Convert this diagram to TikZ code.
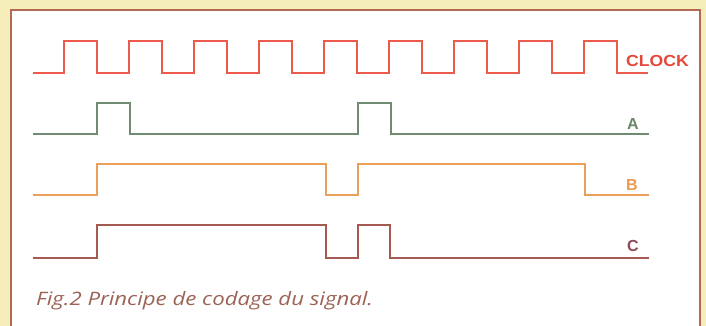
\documentclass[tikz,border=0pt]{standalone}
\usepackage{fontspec}
\setmainfont{Liberation Sans}
\newfontfamily\capfont{Open Sans}
\begin{document}
\begin{tikzpicture}[x=1pt,y=-1pt,
  sig/.style={line width=1.7pt, line join=miter},
  lbl/.style={font=\fontsize{16}{18}\selectfont\bfseries, inner sep=0pt, anchor=base},
]
\definecolor{bgyellow}{HTML}{F6EEBA}
\definecolor{framec}{HTML}{B26A52}
\definecolor{clockc}{HTML}{EC5A4C}
\definecolor{ac}{HTML}{6F8C72}
\definecolor{bc}{HTML}{EBA05A}
\definecolor{cc}{HTML}{A45A50}
\definecolor{clab}{HTML}{E5483A}
\definecolor{alab}{HTML}{6A8868}
\definecolor{blab}{HTML}{EE9A50}
\definecolor{clabc}{HTML}{8E4A58}
\definecolor{capc}{HTML}{9C6254}
\useasboundingbox (0,0) rectangle (706,326);
\fill[bgyellow] (0,0) rectangle (706,326);
\begin{scope}
\clip (0,0) rectangle (706,326);
\filldraw[fill=white, draw=framec, line width=2pt] (11,10) rectangle (700,340);
\end{scope}
% CLOCK
\draw[sig, clockc] (33,73)
  -- (64,73) -- (64,41) -- (97,41) -- (97,73)
  -- (129,73) -- (129,41) -- (162,41) -- (162,73)
  -- (194,73) -- (194,41) -- (227,41) -- (227,73)
  -- (259,73) -- (259,41) -- (292,41) -- (292,73)
  -- (324,73) -- (324,41) -- (357,41) -- (357,73)
  -- (389,73) -- (389,41) -- (422,41) -- (422,73)
  -- (454,73) -- (454,41) -- (487,41) -- (487,73)
  -- (519,73) -- (519,41) -- (552,41) -- (552,73)
  -- (584,73) -- (584,41) -- (617,41) -- (617,73)
  -- (648,73);
% A
\draw[sig, ac] (33,134) -- (97,134) -- (97,103) -- (130,103) -- (130,134)
  -- (358,134) -- (358,103) -- (391,103) -- (391,134) -- (649,134);
% B
\draw[sig, bc] (33,195) -- (97,195) -- (97,164) -- (326,164) -- (326,195)
  -- (358,195) -- (358,164) -- (585,164) -- (585,195) -- (649,195);
% C
\draw[sig, cc] (33,258) -- (97,258) -- (97,225) -- (326,225) -- (326,258)
  -- (358,258) -- (358,225) -- (390,225) -- (390,258) -- (649,258);
% labels
\node[lbl, anchor=base west, clab, xscale=1.1] (lclock) at (626,67) {CLOCK};
\node[lbl, alab] (la) at (633,129) {A};
\node[lbl, blab] (lb) at (632,190) {B};
\node[lbl, clabc] (lc) at (633,251) {C};
\node[anchor=base west, inner sep=0pt, capc, xscale=1.2, font=\capfont\itshape\fontsize{18.5}{22}\selectfont] (cap) at (36,305) {Fig.2 Principe de codage du signal.};
\end{tikzpicture}
\end{document}
